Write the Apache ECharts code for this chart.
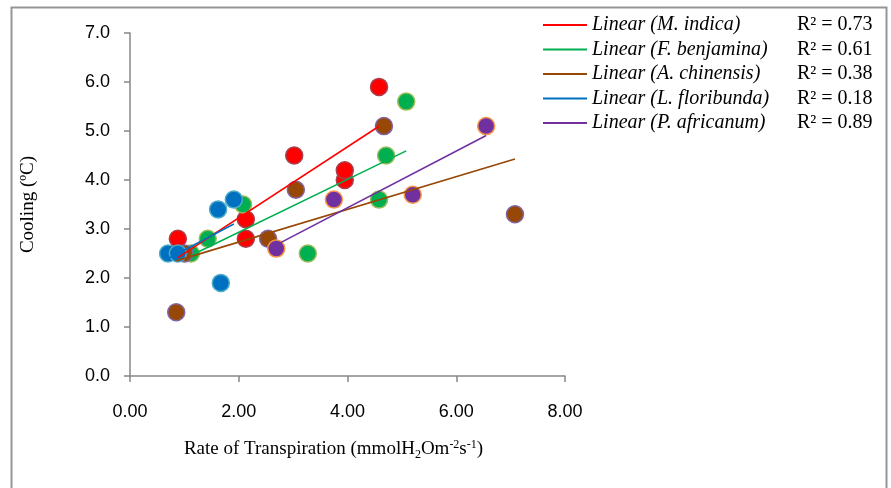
<!DOCTYPE html>
<html>
<head>
<meta charset="utf-8">
<script src="https://cdn.jsdelivr.net/npm/echarts@6/dist/echarts.min.js"></script>
<style>
  html, body { margin: 0; padding: 0; background: #fff; }
  #main { width: 891px; height: 488px; }
</style>
</head>
<body>
<div id="main"></div>
<script>
// species names
const species = ['M. indica', 'F. benjamina', 'A. chinensis', 'L. floribunda', 'P. africanum'];
const r2Labels = ['0.73', '0.61', '0.38', '0.18', '0.89'];

const indicaX = [0.88, 2.13, 2.13, 3.02, 3.95, 3.95, 4.58];
const indicaY = [2.8, 2.8, 3.2, 4.5, 4.0, 4.2, 5.9];
const benjaminaX = [1.12, 1.43, 2.08, 3.27, 4.58, 4.71, 5.08];
const benjaminaY = [2.5, 2.8, 3.5, 2.5, 3.6, 4.5, 5.6];
const chinensisX = [0.85, 1.0, 2.54, 3.05, 4.67, 7.08];
const chinensisY = [1.3, 2.5, 2.8, 3.8, 5.1, 3.3];
const floribundaX = [0.7, 0.88, 1.62, 1.67, 1.91];
const floribundaY = [2.5, 2.5, 3.4, 1.9, 3.6];
const africanumX = [2.69, 3.75, 5.2, 6.55];
const africanumY = [2.6, 3.6, 3.7, 5.1];

const xsets = [indicaX, benjaminaX, chinensisX, floribundaX, africanumX];
const ysets = [indicaY, benjaminaY, chinensisY, floribundaY, africanumY];

const fills = ['#FF0000', '#00B050', '#974806', '#0070C0', '#7030A0'];
const borders = ['#A8404C', '#9BBB59', '#8064A2', '#4BACC6', '#F79646'];

// least squares line between min and max x
function trend(xs, ys) {
  let n = xs.length, sx = 0, sy = 0, sxx = 0, sxy = 0;
  for (let i = 0; i < n; i++) {
    sx += xs[i]; sy += ys[i]; sxx += xs[i] * xs[i]; sxy += xs[i] * ys[i];
  }
  let b = (n * sxy - sx * sy) / (n * sxx - sx * sx);
  let a = (sy - b * sx) / n;
  let x0 = Math.min(...xs), x1 = Math.max(...xs);
  return [[x0, a + b * x0], [x1, a + b * x1]];
}

let series = [];
species.forEach(function (s, i) {
  series.push({
    name: s + ' data',
    type: 'scatter',
    symbolSize: 17,
    itemStyle: { color: fills[i], borderColor: borders[i], borderWidth: 1.5, opacity: 1 },
    data: xsets[i].map(function (x, j) { return [x, ysets[i][j]]; }),
    z: 2
  });
});
species.forEach(function (s, i) {
  series.push({
    name: 'Linear (' + s + ')',
    type: 'line',
    symbol: 'none',
    lineStyle: { color: fills[i], width: 1.6 },
    itemStyle: { color: fills[i] },
    data: trend(xsets[i], ysets[i]),
    z: 5
  });
});

let myChart = echarts.init(document.getElementById('main'));
let option = {
  animation: false,
  backgroundColor: '#fff',
  grid: { left: 130, right: 326, top: 33, bottom: 112 },
  legend: {
    data: species.map(function (s) { return 'Linear (' + s + ')'; }),
    orient: 'vertical',
    left: 543,
    top: 15,
    padding: 0,
    icon: 'rect',
    itemWidth: 44,
    itemHeight: 2,
    itemGap: 4.5,
    formatter: function (name) {
      let i = species.indexOf(name.slice(8, -1));
      return '{a|' + name + '}{b|R² = ' + r2Labels[i] + '}';
    },
    textStyle: {
      rich: {
        a: { fontFamily: 'Liberation Serif', fontStyle: 'italic', fontSize: 20, color: '#000', width: 205, lineHeight: 21 },
        b: { fontFamily: 'Liberation Serif', fontSize: 20, color: '#000', lineHeight: 21 }
      }
    }
  },
  xAxis: {
    type: 'value',
    min: 0, max: 8, interval: 2,
    name: '{n|Rate of Transpiration (mmolH}{sub|2}{n|Om}{sup|-2}{n|s}{sup|-1}{n|)}',
    nameLocation: 'middle',
    nameGap: 61,
    nameTextStyle: {
      padding: [0, 28, 0, 0],
      rich: {
        n: { fontFamily: 'Liberation Serif', fontSize: 19, color: '#000', lineHeight: 24, verticalAlign: 'middle' },
        sub: { fontFamily: 'Liberation Serif', fontSize: 12, color: '#000', lineHeight: 24, verticalAlign: 'bottom' },
        sup: { fontFamily: 'Liberation Serif', fontSize: 12, color: '#000', lineHeight: 24, verticalAlign: 'top', padding: [2, 0, 0, 0] }
      }
    },
    splitLine: { show: false },
    axisLine: { lineStyle: { color: '#878787', width: 1.5 } },
    axisTick: { show: true, length: 6, lineStyle: { color: '#878787', width: 1.5 } },
    axisLabel: {
      margin: 27,
      fontFamily: 'Liberation Sans', fontSize: 18, color: '#000',
      formatter: function (v) { return v.toFixed(2); }
    }
  },
  yAxis: {
    type: 'value',
    min: 0, max: 7, interval: 1,
    name: 'Cooling (ºC)',
    nameLocation: 'middle',
    nameGap: 92,
    nameTextStyle: { fontFamily: 'Liberation Serif', fontSize: 19, color: '#000' },
    splitLine: { show: false },
    axisLine: { show: true, lineStyle: { color: '#878787', width: 1.5 } },
    axisTick: { show: true, length: 6, lineStyle: { color: '#878787', width: 1.5 } },
    axisLabel: {
      margin: 20,
      fontFamily: 'Liberation Sans', fontSize: 18, color: '#000',
      formatter: function (v) { return v.toFixed(1); }
    }
  },
  graphic: [{
    type: 'rect',
    shape: { x: 11.5, y: 7.5, width: 875, height: 500 },
    style: { fill: 'none', stroke: '#969696', lineWidth: 2 },
    silent: true
  }],
  series: series
};
myChart.setOption(option);
</script>
</body>
</html>
